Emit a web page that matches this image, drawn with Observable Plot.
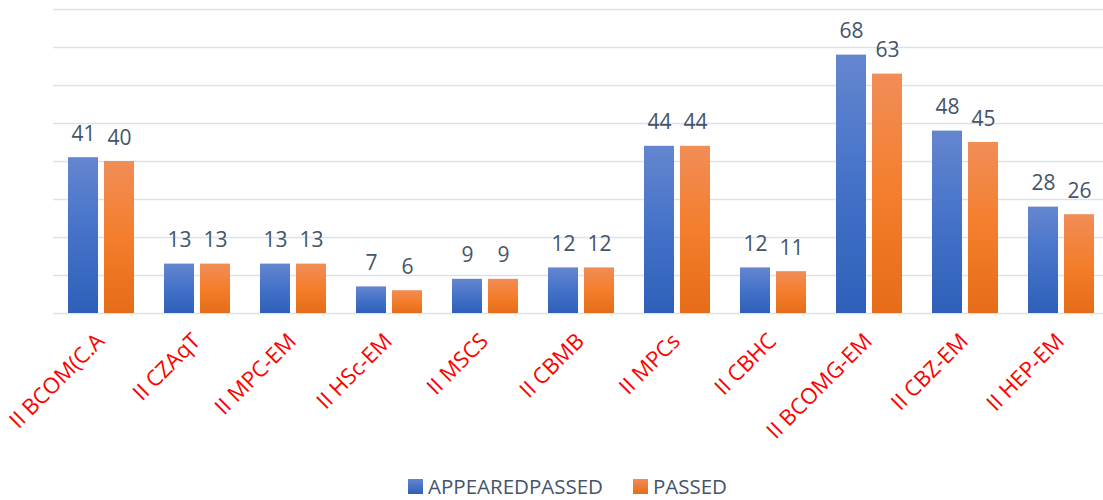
<!DOCTYPE html>
<html>
<head>
<meta charset="utf-8">
<script src="https://cdn.jsdelivr.net/npm/d3@7"></script>
<script src="https://cdn.jsdelivr.net/npm/@observablehq/plot@0.6"></script>
<style>
  html, body { margin: 0; padding: 0; background: #fff; overflow: hidden; }
  #wrap { position: relative; width: 1103px; height: 500px; overflow: hidden; }
  #legend { position: absolute; top: 472px; left: 408px; display: flex; align-items: center;
            font-family: "Open Sans", sans-serif; font-size: 20.5px; color: #44546A; }
  .sw { width: 15px; height: 15px; display: inline-block; margin-right: 5px; }
  .item { display: flex; align-items: center; }
</style>
</head>
<body>
<svg width="0" height="0" style="position:absolute">
  <defs>
    <linearGradient id="gBlue" x1="0" y1="0" x2="0" y2="1">
      <stop offset="0" stop-color="#6486CF"/>
      <stop offset="0.5" stop-color="#4472C9"/>
      <stop offset="1" stop-color="#2F5FB9"/>
    </linearGradient>
    <linearGradient id="gOrange" x1="0" y1="0" x2="0" y2="1">
      <stop offset="0" stop-color="#F18D57"/>
      <stop offset="0.5" stop-color="#F47E2C"/>
      <stop offset="1" stop-color="#E66C18"/>
    </linearGradient>
  </defs>
</svg>
<div id="wrap">
  <div id="chart"></div>
  <div id="legend">
    <span class="item"><span class="sw" style="background:linear-gradient(#6486CF,#2F5FB9)"></span>APPEAREDPASSED</span>
    <span class="item" style="margin-left:30px"><span class="sw" style="background:linear-gradient(#F18D57,#E66C18)"></span>PASSED</span>
  </div>
</div>
<script>
const categories = ["II BCOM(C.A", "II CZAqT", "II MPC-EM", "II HSc-EM", "II MSCS", "II CBMB", "II MPCs", "II CBHC", "II BCOMG-EM", "II CBZ-EM", "II HEP-EM"];
const seriesNames = ["APPEAREDPASSED", "PASSED"];
const appeared = [41, 13, 13, 7, 9, 12, 44, 12, 68, 48, 28];
const passed = [40, 13, 13, 6, 9, 12, 44, 11, 63, 45, 26];
const gridTicks = [0, 10, 20, 30, 40, 50, 60, 70, 80];

const rows = [];
categories.forEach((c, i) => {
  rows.push({cat: c, series: seriesNames[0], value: appeared[i]});
  rows.push({cat: c, series: seriesNames[1], value: passed[i]});
});
const catRows = categories.map(c => ({cat: c}));

const chart = Plot.plot({
  width: 1103,
  height: 460,
  marginTop: 9,
  marginBottom: 147,
  marginLeft: 50,
  marginRight: -8,
  style: {fontFamily: "Open Sans, sans-serif", overflow: "hidden", background: "#fff"},
  fx: {domain: categories, padding: 0, axis: null},
  x: {domain: seriesNames, paddingInner: 0.162, paddingOuter: 0.384, axis: null},
  y: {domain: [0, 80], axis: null},
  marks: [
    Plot.ruleY(gridTicks, {y: d => d, stroke: "#DEE2E8", strokeWidth: 1.6}),
    Plot.barY(rows.filter(d => d.series === seriesNames[0]), {fx: "cat", x: "series", y: "value", fill: "url(#gBlue)"}),
    Plot.barY(rows.filter(d => d.series === seriesNames[1]), {fx: "cat", x: "series", y: "value", fill: "url(#gOrange)"}),
    Plot.text(rows, {fx: "cat", x: "series", y: "value", text: d => String(d.value),
      lineAnchor: "bottom", dy: -17, fill: "#44546A", fontSize: 21}),
    Plot.text(catRows, {fx: "cat", text: "cat", frameAnchor: "bottom", textAnchor: "end",
      lineAnchor: "middle", rotate: -45, dx: -1, dy: 24, fill: "#FF0000", fontSize: 22})
  ]
});
document.getElementById("chart").appendChild(chart);
</script>
</body>
</html>
